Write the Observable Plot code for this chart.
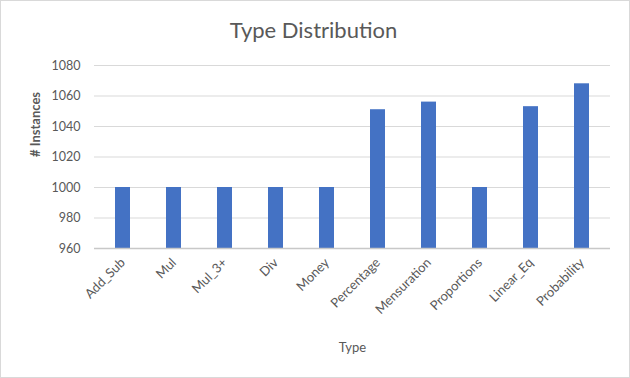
<!DOCTYPE html>
<html>
<head>
<meta charset="utf-8">
<script src="https://cdn.jsdelivr.net/npm/d3@7"></script>
<script src="https://cdn.jsdelivr.net/npm/@observablehq/plot@0.6"></script>
<style>
  body { margin: 0; background: #fff; }
  svg { outline: 1px solid #d9d9d9; outline-offset: -1px; }
</style>
</head>
<body>
<div id="chart"></div>
<script>
const categories = ["Add_Sub", "Mul", "Mul_3+", "Div", "Money", "Percentage", "Mensuration", "Proportions", "Linear_Eq", "Probability"];
const counts = [1000, 1000, 1000, 1000, 1000, 1051, 1056, 1000, 1053, 1068];
const yTicks = [960, 980, 1000, 1020, 1040, 1060, 1080];
const title = "Type Distribution";
const xLabel = "Type";
const yLabel = "# Instances";

const data = categories.map((c, i) => ({type: c, count: counts[i]}));
const font = "Lato, 'Open Sans', sans-serif";

const chart = Plot.plot({
  width: 630,
  height: 378,
  marginTop: 65,
  marginBottom: 130,
  marginLeft: 94,
  marginRight: 20,
  style: {fontFamily: font, fontSize: "12px", color: "#595959", background: "#fff"},
  x: {domain: categories, paddingInner: 0.71, paddingOuter: 0.355, label: null},
  y: {domain: [960, 1080], label: null},
  marks: [
    Plot.gridY(yTicks, {stroke: "#d9d9d9", strokeOpacity: 1}),
    Plot.barY(data, {x: "type", y1: 960, y2: "count", fill: "#4472c4"}),
    Plot.ruleY([960], {stroke: "#c8c8c8", strokeWidth: 1.5}),
    Plot.axisY(yTicks, {tickSize: 0, tickPadding: 14, tickFormat: "d", label: null, fill: "#595959", fontSize: 12.5}),
    Plot.axisX({tickSize: 0, tickRotate: -45, tickPadding: 12, label: null, fill: "#595959", fontSize: 13}),
    Plot.text([title], {frameAnchor: "top", lineAnchor: "middle", dx: -39, dy: -35, fontSize: 22, fill: "#595959"}),
    Plot.text([xLabel], {frameAnchor: "bottom", lineAnchor: "middle", dy: 99, fontSize: 13, fill: "#595959"}),
    Plot.text([yLabel], {frameAnchor: "left", dx: -59, rotate: -90, fontSize: 13, fontWeight: "bold", fill: "#595959"})
  ]
});
document.getElementById("chart").append(chart);
</script>
</body>
</html>
